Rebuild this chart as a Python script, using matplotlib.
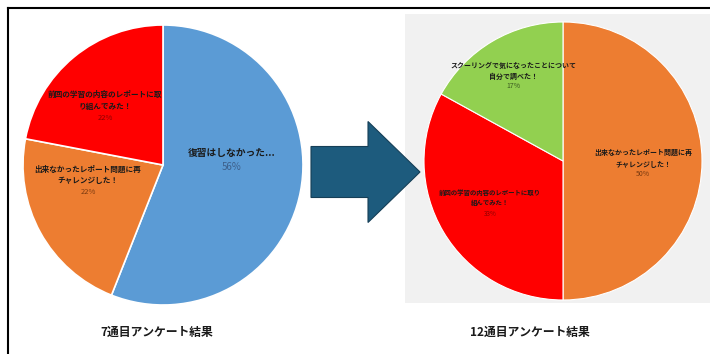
import numpy as np
import matplotlib.pyplot as plt
from matplotlib.patches import FancyArrow, Rectangle
from matplotlib.lines import Line2D

plt.rcParams['font.family'] = ['Noto Sans CJK JP', 'DejaVu Sans']

# 7th survey
left_labels = ['復習はしなかった...', '出来なかったレポート問題に再\nチャレンジした！', '前回の学習の内容のレポートに取\nり組んでみた！']
left_values = [56, 22, 22]
left_colors = ['#5b9bd5', '#ed7d31', '#ff0000']
left_title = '7通目アンケート結果'

# 12th survey
right_labels = ['出来なかったレポート問題に再\nチャレンジした！', '前回の学習の内容のレポートに取り\n組んでみた！', 'スクーリングで気になったことについて\n自分で調べた！']
right_values = [50, 33, 17]
right_colors = ['#ed7d31', '#ff0000', '#92d050']
right_title = '12通目アンケート結果'

H = 354
def Y(y):
    return H - y

fig = plt.figure(figsize=(7.1, 3.54), dpi=100)
ax = fig.add_axes([0, 0, 1, 1])

# gray panel behind right chart
ax.add_patch(Rectangle((405, Y(303)), 305, 289, facecolor='#f1f1f1', edgecolor='none', zorder=0))

ax.pie(left_values, colors=left_colors, startangle=90, counterclock=False,
       center=(163, Y(165)), radius=140,
       wedgeprops=dict(edgecolor='white', linewidth=1.2))
ax.pie(right_values, colors=right_colors, startangle=90, counterclock=False,
       center=(563, Y(161)), radius=139,
       wedgeprops=dict(edgecolor='white', linewidth=0.8))

ax.set_xlim(0, 710)
ax.set_ylim(0, H)
ax.set_aspect('auto')
ax.axis('off')

def label(x, ys, text, pct, size, pct_color):
    lines = text.split('\n')
    for line, y in zip(lines, ys):
        ax.text(x, Y(y), line, ha='center', va='center', fontsize=size, fontweight='bold',
                color='#1a1a1a')
    ax.text(x, Y(ys[-1]), '%d%%' % pct, ha='center', va='center', fontsize=size,
            color=pct_color)

# left labels
label(232, [153, 167], left_labels[0], left_values[0], 7, '#3d5f8a')
label(88, [169, 180, 192], left_labels[1], left_values[1], 5.5, '#7a3a10')
label(105, [94, 107, 118], left_labels[2], left_values[2], 5.5, '#8a0000')

# right labels
label(643, [152, 164, 174], right_labels[0], right_values[0], 5, '#7a3a10')
label(490, [192, 203, 214], right_labels[1], right_values[1], 4.6, '#8a0000')
label(513, [65, 76, 86], right_labels[2], right_values[2], 5, '#3a5a20')

# titles
ax.text(157, Y(332), left_title, ha='center', va='center', fontsize=8.5, fontweight='bold', color='#1a1a1a')
ax.text(530, Y(332), right_title, ha='center', va='center', fontsize=8.5, fontweight='bold', color='#1a1a1a')

# arrow
ax.add_patch(FancyArrow(311, Y(172), 109, 0, width=51, head_width=101, head_length=52,
                        length_includes_head=True, facecolor='#1d5b7d', edgecolor='#163f57',
                        linewidth=0.8, zorder=3))

# frame lines
fig.add_artist(Line2D([8 / 710, 8 / 710], [0, 1 - 8 / 354], color='black', linewidth=1.5))
fig.add_artist(Line2D([8 / 710, 1], [1 - 8 / 354, 1 - 8 / 354], color='black', linewidth=1.5))

fig.savefig('out.png', dpi=100)
